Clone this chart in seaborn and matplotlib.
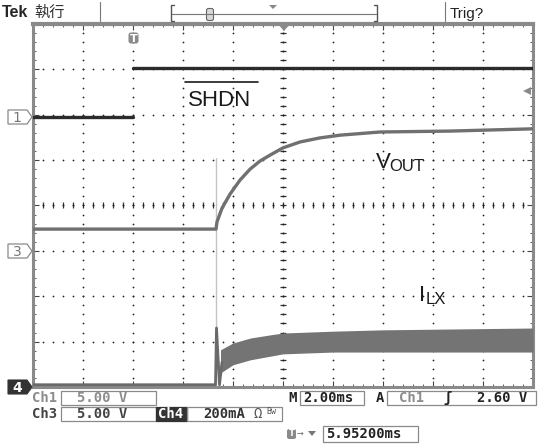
import numpy as np
import seaborn as sns
import matplotlib.pyplot as plt
from matplotlib.patches import FancyBboxPatch, Rectangle, Polygon

# time in ms (2 ms/div, 10 div), amplitude in screen divisions (8 div)
shdn_low_t = [0.0, 4.0]
shdn_low_v = [5.95, 5.95]
shdn_high_t = [4.0, 20.0]
shdn_high_v = [7.03, 7.03]

vout_t = [0.0, 7.32, 7.36, 7.56, 7.88, 8.28, 8.68, 9.08, 9.48, 10.0,
          10.68, 11.48, 12.28, 13.88, 16.68, 20.0]
vout_v = [3.48, 3.48, 3.64, 3.94, 4.25, 4.56, 4.80, 4.98, 5.11, 5.27,
          5.40, 5.49, 5.55, 5.62, 5.64, 5.69]

ilx_t = [0.0, 7.30, 7.34, 7.46, 7.56]
ilx_v = [0.05, 0.05, 1.30, 0.05, 0.55]
ilx_band_t = [7.5, 8.0, 8.7, 9.5, 10.0, 11.0, 12.0, 14.0, 17.0, 20.0]
ilx_band_hi = [0.82, 0.97, 1.08, 1.15, 1.19, 1.21, 1.23, 1.26, 1.28, 1.30]
ilx_band_lo = [0.31, 0.49, 0.60, 0.68, 0.73, 0.75, 0.77, 0.77, 0.77, 0.77]
spike_t = [7.32, 7.32]
spike_v = [0.05, 5.05]

sns.set_theme(style="white")
plt.rcParams['font.family'] = ['DejaVu Sans', 'Noto Sans CJK TC']

W, H = 544, 446
fig = plt.figure(figsize=(W / 100, H / 100), dpi=100)
ax = fig.add_axes([33 / W, 1 - 387 / H, 500 / W, 363 / H])
ax.set_xlim(0, 20)
ax.set_ylim(0, 8)

# graticule: dotted lines each division, tick marks on the centre cross
dot_y = np.arange(0, 8.01, 0.2)
dot_x = np.arange(0, 20.01, 0.4)
for gx in np.arange(2, 20, 2):
    if gx == 10:
        continue
    ax.scatter(np.full_like(dot_y, gx), dot_y, s=1.6, color="#222222", lw=0, zorder=1)
for gy in range(1, 8):
    if gy == 4:
        continue
    ax.scatter(dot_x, np.full_like(dot_x, gy), s=1.6, color="#222222", lw=0, zorder=1)
ax.scatter(np.full_like(dot_y, 10), dot_y, marker="_", s=14, color="#333333", lw=0.9, zorder=1)
ax.scatter(dot_x, np.full_like(dot_x, 4), marker="|", s=14, color="#333333", lw=0.9, zorder=1)
ax.scatter(np.full_like(dot_y, 10), dot_y, s=2, color="#222222", lw=0, zorder=1)
ax.scatter(dot_x, np.full_like(dot_x, 4), s=2, color="#222222", lw=0, zorder=1)

ax.set_xticks(np.arange(0, 20.01, 2))
ax.set_yticks(np.arange(0, 8.01, 1))
ax.set_xticks(dot_x, minor=True)
ax.set_yticks(dot_y, minor=True)
ax.tick_params(which="both", direction="in", top=True, right=True, bottom=True, left=True,
               labelbottom=False, labelleft=False, color="#444444")
ax.tick_params(which="major", length=4, width=0.8)
ax.tick_params(which="minor", length=2.5, width=0.6)
ax.set_xlabel("")
ax.set_ylabel("")
for side, sp in ax.spines.items():
    sp.set_color("#8a8a8a")
    sp.set_linewidth(2.2)
ax.spines["top"].set_linewidth(3)

# traces
ax.fill_between(ilx_band_t, ilx_band_lo, ilx_band_hi, color="#747474", lw=0, zorder=3)
sns.lineplot(x=spike_t, y=spike_v, ax=ax, color="#c4c4c4", lw=1.0, sort=False, estimator=None, zorder=3)
sns.lineplot(x=ilx_t, y=ilx_v, ax=ax, color="#6a6a6a", lw=2.0, sort=False, estimator=None, zorder=4)
sns.lineplot(x=vout_t, y=vout_v, ax=ax, color="#707070", lw=2.4, sort=False, estimator=None, zorder=4)
sns.lineplot(x=shdn_low_t, y=shdn_low_v, ax=ax, color="#2b2b2b", lw=2.4, estimator=None, zorder=5)
sns.lineplot(x=shdn_high_t, y=shdn_high_v, ax=ax, color="#2b2b2b", lw=2.4, estimator=None, zorder=5)

# trace labels
ax.text(6.2, 6.2, "SHDN", fontsize=16, family="Liberation Sans", color="#1a1a1a", ha="left", va="baseline")
ax.plot([6.08, 9.0], [6.72, 6.72], color="#1a1a1a", lw=1.2)
ax.text(13.7, 4.83, "V", fontsize=16, family="Liberation Sans", color="#1a1a1a", va="baseline")
ax.text(14.25, 4.75, "OUT", fontsize=12, family="Liberation Sans", color="#1a1a1a", va="baseline")
ax.text(15.45, 1.9, "I", fontsize=16, family="Liberation Sans", color="#1a1a1a", va="baseline")
ax.text(15.7, 1.83, "LX", fontsize=12, family="Liberation Sans", color="#1a1a1a", va="baseline")

# overlay in pixel coordinates for the scope's screen furniture
ov = fig.add_axes([0, 0, 1, 1])
ov.set_xlim(0, W)
ov.set_ylim(H, 0)
ov.axis("off")
ov.patch.set_alpha(0)

ov.text(2, 17, "Tek", fontsize=11.5, weight="bold", family="Liberation Sans", va="baseline")
ov.text(34, 17, "執行", fontsize=11, family="Noto Sans CJK TC", color="#333333", va="baseline")
for sx in (100, 445):
    ov.plot([sx, sx], [2, 21], color="#777777", lw=0.8)
ov.plot([172, 376], [14, 14], color="#777777", lw=0.8)
ov.plot([174, 171, 171, 174], [5, 5, 21, 21], color="#555555", lw=1)
ov.plot([374, 377, 377, 374], [5, 5, 21, 21], color="#555555", lw=1)
ov.add_patch(FancyBboxPatch((207, 9), 6, 11, boxstyle="round,pad=0.5,rounding_size=2",
                            fc="#d8d8d8", ec="#666666", lw=0.8))
ov.add_patch(Polygon([[269, 5], [277, 5], [273, 9]], closed=True, fc="#888888", ec="none"))
ov.text(450, 18, "Trig?", fontsize=11, family="Liberation Sans", color="#222222", va="baseline")
ov.add_patch(Polygon([[277, 23], [291, 23], [284, 31]], closed=True, fc="#8a8a8a", ec="none"))

# trigger position marker and trigger level arrow
ov.add_patch(FancyBboxPatch((128.5, 32.5), 10, 11, boxstyle="round,pad=0,rounding_size=2.5",
                            fc="#8a8a8a", ec="none"))
ov.text(133.5, 38.5, "T", fontsize=8, weight="bold", color="white", ha="center", va="center")
ov.add_patch(Polygon([[523, 91], [531, 87], [531, 95]], closed=True, fc="#8a8a8a", ec="none"))


def ch_marker(y, label, filled=False):
    pts = [[8, y - 7], [27, y - 7], [32, y], [27, y + 7], [8, y + 7]]
    if filled:
        ov.add_patch(Polygon(pts, closed=True, fc="#333333", ec="#333333", lw=0.8))
        ov.text(17, y + 0.5, label, fontsize=10, weight="bold", color="white", ha="center", va="center")
    else:
        ov.add_patch(Polygon(pts, closed=True, fc="white", ec="#8a8a8a", lw=0.9))
        ov.text(17, y + 0.5, label, fontsize=10, color="#777777", ha="center", va="center")


ch_marker(117, "1")
ch_marker(251, "3")
ch_marker(387, "4", filled=True)

# readout rows
mono = "DejaVu Sans Mono"


def box(x0, x1, y0, y1):
    ov.add_patch(Rectangle((x0, y0), x1 - x0, y1 - y0, fc="none", ec="#8a8a8a", lw=0.9))


def rtext(x, y, s, color="#222222", bold=True, size=10):
    ov.text(x, y, s, fontsize=size, family=mono, weight="bold" if bold else "normal",
            color=color, va="center", ha="left")


r1, r2, r3 = 398, 414, 434
rtext(32, r1, "Ch1", "#8c8c8c")
box(61, 156, r1 - 7, r1 + 7)
rtext(77, r1, "5.00 V", "#8c8c8c")
rtext(288, r1, "M")
box(300, 364, r1 - 7, r1 + 7)
rtext(303, r1, "2.00ms")
rtext(376, r1, "A")
box(387, 536, r1 - 7, r1 + 7)
rtext(399, r1, "Ch1", "#8c8c8c")
rtext(443, r1, "ʃ")
rtext(477, r1, "2.60 V")

rtext(32, r2, "Ch3", "#444444")
box(61, 156, r2 - 7, r2 + 7)
rtext(77, r2, "5.00 V", "#444444")
ov.add_patch(Rectangle((156, r2 - 7), 31, 14, fc="#333333", ec="#333333", lw=0.9))
rtext(158, r2, "Ch4", "white")
box(187, 282, r2 - 7, r2 + 7)
rtext(203, r2, "200mA", "#333333")
rtext(253, r2, "Ω", "#555555", bold=False)
rtext(266, r2 - 2, "Bw", "#555555", bold=False, size=6)

ov.add_patch(FancyBboxPatch((287, r3 - 5), 9, 10, boxstyle="round,pad=0,rounding_size=2",
                            fc="#8a8a8a", ec="none"))
ov.text(291.5, r3, "T", fontsize=6, weight="bold", color="white", ha="center", va="center")
rtext(297, r3, "→", "#777777", bold=False, size=8)
ov.add_patch(Polygon([[308, r3 - 3], [316, r3 - 3], [312, r3 + 2]], closed=True, fc="#777777", ec="none"))
box(323, 418, r3 - 8, r3 + 8)
rtext(326, r3, "5.95200ms")

fig.savefig("out.png", dpi=100)
